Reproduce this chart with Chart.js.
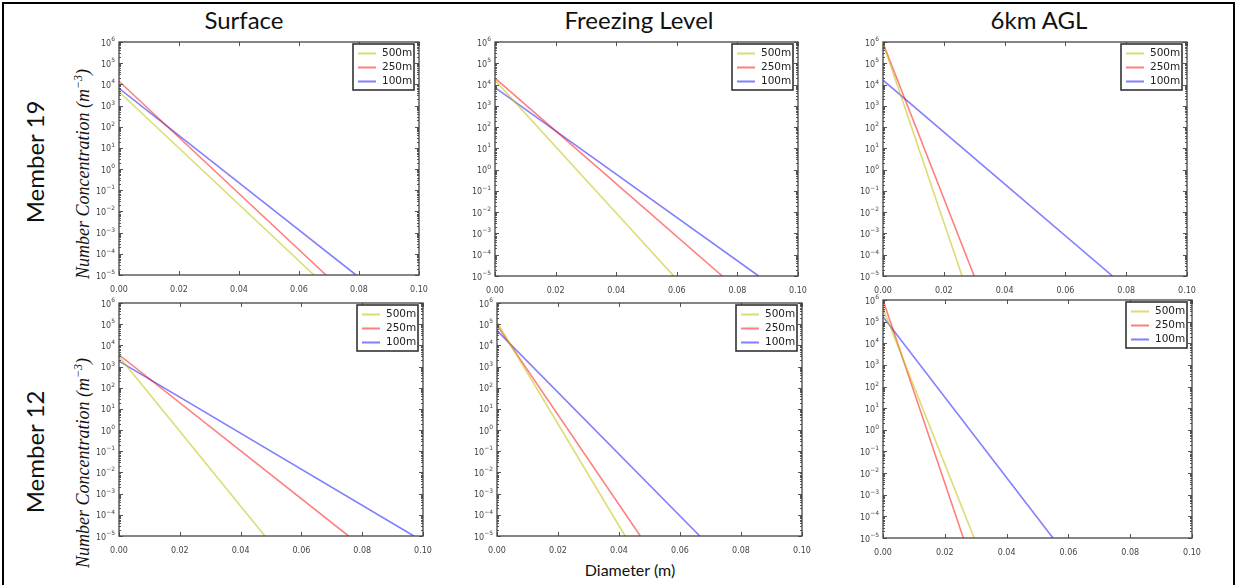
<!DOCTYPE html>
<html>
<head>
<meta charset="utf-8">
<script src="https://cdn.jsdelivr.net/npm/chart.js@4.4.1/dist/chart.umd.min.js"></script>
<style>
  body { margin: 0; background: #fff; width: 1236px; height: 585px; overflow: hidden; position: relative; }
  .frame { position: absolute; left: 2px; top: 2px; width: 1229px; height: 620px; border: 2px solid #000; }
  .panel { position: absolute; }
  .txt { position: absolute; font-family: Lato, "Open Sans", sans-serif; color: #111; white-space: nowrap; text-align: center; }
  .rot { transform: translate(-50%, -50%) rotate(-90deg); }
  .ytitle { font-family: "Liberation Serif", "DejaVu Serif", serif; font-style: italic; font-size: 18px; }
</style>
</head>
<body>
<div class="frame"></div>

<div class="txt" style="left:244px;top:19px;transform:translate(-50%,-50%);font-size:24px;">Surface</div>
<div class="txt" style="left:639px;top:19px;transform:translate(-50%,-50%);font-size:24px;">Freezing Level</div>
<div class="txt" style="left:1039px;top:19px;transform:translate(-50%,-50%);font-size:24px;">6km AGL</div>

<div class="txt rot" style="left:34px;top:162px;font-size:24px;">Member 19</div>
<div class="txt rot" style="left:34px;top:452px;font-size:24px;">Member 12</div>

<div class="txt rot ytitle" style="left:82px;top:174px;">Number Concentration (m<sup style="font-size:12px">−3</sup>)</div>
<div class="txt rot ytitle" style="left:82px;top:463px;">Number Concentration (m<sup style="font-size:12px">−3</sup>)</div>

<div class="txt" style="left:630px;top:569px;transform:translate(-50%,-50%);font-size:16px;">Diameter (m)</div>

<canvas id="p1" class="panel"></canvas>
<canvas id="p2" class="panel"></canvas>
<canvas id="p3" class="panel"></canvas>
<canvas id="p4" class="panel"></canvas>
<canvas id="p5" class="panel"></canvas>
<canvas id="p6" class="panel"></canvas>

<script>
// legend names and colours
const sizes = ['500m', '250m', '100m'];
const colors = ['rgba(191,191,0,0.55)', 'rgba(255,0,0,0.5)', 'rgba(0,0,255,0.5)'];

// axis ticks
const xTicks = [0, 0.02, 0.04, 0.06, 0.08, 0.10];
const yExps = [-5, -4, -3, -2, -1, 0, 1, 2, 3, 4, 5, 6];
const yFloor = 1e-5;

// value at D=0 and the diameter where each line reaches 1e-5 (500m, 250m, 100m)
const surf19Start = [4.5e3, 1.4e4, 6.5e3];
const surf19End = [0.065, 0.069, 0.079];
const frz19Start = [1.6e4, 2e4, 7.2e3];
const frz19End = [0.059, 0.075, 0.087];
const agl19Start = [9e5, 9e5, 1.6e4];
const agl19End = [0.026, 0.030, 0.0755];

const surf12Start = [3e3, 3.6e3, 1.8e3];
const surf12End = [0.048, 0.0755, 0.097];
const frz12Start = [1.25e5, 9e4, 5e4];
const frz12End = [0.042, 0.047, 0.0665];
const agl12Start = [4e5, 1e6, 1.7e5];
const agl12End = [0.0295, 0.026, 0.055];

// inside ticks + frame + 10^n labels + legend box, like the old matplotlib look
const boxPlugin = {
  id: 'boxPlugin',
  afterDraw(chart) {
    const ctx = chart.ctx;
    const a = chart.chartArea;
    const xs = chart.scales.x, ys = chart.scales.y;
    ctx.save();
    ctx.strokeStyle = '#555';
    ctx.lineWidth = 1;
    ctx.beginPath();
    xTicks.forEach(v => {
      const px = Math.round(xs.getPixelForValue(v)) + 0.5;
      ctx.moveTo(px, a.bottom); ctx.lineTo(px, a.bottom - 4);
      ctx.moveTo(px, a.top); ctx.lineTo(px, a.top + 4);
    });
    yExps.forEach(e => {
      const py = Math.round(ys.getPixelForValue(Math.pow(10, e))) + 0.5;
      ctx.moveTo(a.left, py); ctx.lineTo(a.left + 4, py);
      ctx.moveTo(a.right, py); ctx.lineTo(a.right - 4, py);
      if (e < 6) {
        for (let k = 2; k < 10; k++) {
          const pm = Math.round(ys.getPixelForValue(k * Math.pow(10, e))) + 0.5;
          ctx.moveTo(a.left, pm); ctx.lineTo(a.left + 2, pm);
          ctx.moveTo(a.right, pm); ctx.lineTo(a.right - 2, pm);
        }
      }
    });
    ctx.stroke();
    ctx.strokeStyle = '#444';
    ctx.lineWidth = 1.3;
    ctx.strokeRect(a.left, a.top, a.right - a.left, a.bottom - a.top);

    // y labels 10^n with a raised exponent
    ctx.fillStyle = '#444';
    ctx.textBaseline = 'alphabetic';
    yExps.forEach(e => {
      const py = ys.getPixelForValue(Math.pow(10, e));
      const ex = e < 0 ? '−' + (-e) : String(e);
      ctx.font = '6px "DejaVu Sans"';
      const ew = ctx.measureText(ex).width;
      ctx.textAlign = 'left';
      const right = a.left - 4;
      ctx.fillText(ex, right - ew, py - 1);
      ctx.font = '8px "DejaVu Sans"';
      ctx.textAlign = 'right';
      ctx.fillText('10', right - ew, py + 3.5);
    });

    // legend
    const bw = 61, bh = 46;
    const bx = a.right - 5 - bw, by = a.top + 2;
    ctx.fillStyle = '#fff';
    ctx.fillRect(bx, by, bw, bh);
    ctx.strokeStyle = '#333';
    ctx.lineWidth = 1.6;
    ctx.strokeRect(bx, by, bw, bh);
    ctx.font = '10.5px "DejaVu Sans"';
    ctx.textAlign = 'left';
    ctx.textBaseline = 'middle';
    chart.data.datasets.forEach((ds, i) => {
      const ly = by + 9.5 + i * 14;
      ctx.strokeStyle = ds.borderColor;
      ctx.lineWidth = 2;
      ctx.beginPath();
      ctx.moveTo(bx + 5, ly); ctx.lineTo(bx + 23, ly);
      ctx.stroke();
      ctx.fillStyle = '#222';
      ctx.fillText(ds.label, bx + 29, ly);
    });
    ctx.restore();
  }
};

function makePanel(id, left, top, w, h, starts, ends) {
  const padL = 40, padT = 10, padR = 20, padB = 20;
  const cv = document.getElementById(id);
  cv.style.left = (left - padL) + 'px';
  cv.style.top = (top - padT) + 'px';
  cv.style.width = (w + padL + padR) + 'px';
  cv.style.height = (h + padT + padB) + 'px';
  cv.width = w + padL + padR;
  cv.height = h + padT + padB;

  const datasets = sizes.map((s, i) => ({
    label: s,
    data: [{ x: 0, y: starts[i] }, { x: ends[i], y: yFloor }],
    borderColor: colors[i],
    borderWidth: 1.6,
    pointRadius: 0,
    fill: false,
    tension: 0
  }));

  new Chart(cv.getContext('2d'), {
    type: 'line',
    data: { datasets },
    options: {
      responsive: false,
      animation: false,
      layout: { padding: { top: padT, right: padR, left: 0, bottom: 0 } },
      plugins: { legend: { display: false }, tooltip: { enabled: false } },
      scales: {
        x: {
          type: 'linear',
          min: 0, max: 0.1,
          afterFit(scale) { scale.height = padB; },
          afterBuildTicks(scale) { scale.ticks = xTicks.map(v => ({ value: v })); },
          grid: { display: false },
          border: { display: false },
          ticks: {
            padding: 2,
            maxRotation: 0,
            color: '#444',
            font: { family: 'DejaVu Sans', size: 8 },
            callback: v => v.toFixed(2)
          }
        },
        y: {
          type: 'logarithmic',
          min: 1e-5, max: 1e6,
          afterFit(scale) { scale.width = padL; },
          afterBuildTicks(scale) { scale.ticks = yExps.map(e => ({ value: Math.pow(10, e) })); },
          grid: { display: false },
          border: { display: false },
          ticks: { display: false }
        }
      }
    },
    plugins: [boxPlugin]
  });
}

makePanel('p1', 119, 42, 300, 233, surf19Start, surf19End);
makePanel('p2', 495, 42, 303, 234, frz19Start, frz19End);
makePanel('p3', 883, 42, 304, 234, agl19Start, agl19End);
makePanel('p4', 119, 303, 304, 233, surf12Start, surf12End);
makePanel('p5', 497, 303, 305, 233, frz12Start, frz12End);
makePanel('p6', 883, 300, 309, 238, agl12Start, agl12End);
</script>
</body>
</html>
